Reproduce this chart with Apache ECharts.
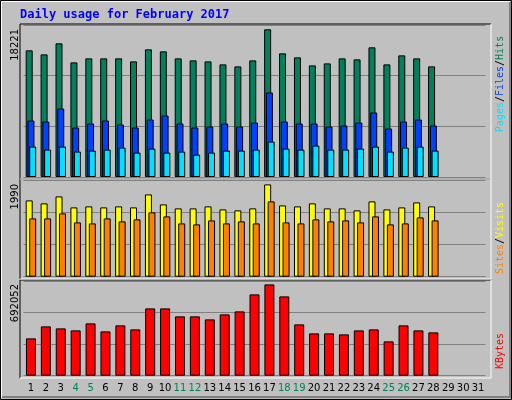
<!DOCTYPE html><html><head><meta charset="utf-8">
<script src="https://cdn.jsdelivr.net/npm/echarts@6/dist/echarts.min.js"></script>
<style>html,body{margin:0;padding:0;background:#c0c0c0}#c{width:512px;height:400px}</style></head><body><div id="c"></div>
<script>
const days = Array.from({length:31},(_,i)=>String(i+1));
const weekendDays = ['4','5','11','12','18','19','25','26'];
const hits = [15624,15129,16490,14140,14635,14635,14635,14264,15748,15500,14635,14387,14264,13893,13645,14387,18221,15253,14758,13769,14016,14635,14511,15995,13893,15006,14635,13645];
const files = [6967,6843,8451,6101,6596,6967,6472,6101,7090,7585,6596,6101,6225,6596,6225,6719,10430,6843,6596,6596,6225,6348,6719,7956,5977,6843,7090,6348];
const pages = [3751,3380,3751,3133,3256,3380,3628,3009,3504,3009,3133,2762,3009,3256,3256,3380,4370,3504,3380,3875,3380,3380,3504,3751,3133,3628,3751,3256];
const visits = [1645,1581,1731,1494,1516,1494,1516,1494,1774,1559,1473,1473,1516,1451,1430,1473,1990,1537,1516,1581,1473,1473,1430,1624,1451,1494,1602,1516];
const sites = [1257,1257,1365,1171,1149,1257,1193,1236,1387,1300,1149,1128,1214,1149,1193,1149,1624,1171,1149,1236,1193,1214,1171,1300,1128,1149,1279,1214];
const kbytes = [282878,373804,358649,343495,396535,335917,381381,351072,510191,510191,449575,449575,426843,464730,487460,616271,692052,601117,388958,320764,320764,313186,343495,351072,260147,381381,343495,328341];
const maxLabels = ['18221','1990','692052'];

const chart = echarts.init(document.getElementById('c'));
const L=23.5, W=462;
const grids=[{left:L,width:W,top:25,height:152},{left:L,width:W,top:180,height:96.7},{left:L,width:W,top:281,height:94.7}];
const maxes=[18221*152/147.7, 1990*96.7/92.3, 692052*94.7/91.3];
const ys = maxes.map((m,i)=>({gridIndex:i,type:'value',min:0,max:m,interval:m/3,axisLabel:{show:false},axisLine:{show:false},axisTick:{show:false},splitLine:{show:true,lineStyle:{color:'#808080',width:1}}}));
const xs = [0,1,2].map(i=>({gridIndex:i,type:'category',data:days,axisLine:{show:false},axisTick:{show:false},
  axisLabel:{show:i===2,interval:0,margin:8,fontFamily:'DejaVu Sans',fontSize:10,
   color:(v)=>weekendDays.includes(v)?'#00805c':'#000'}}));
const bs = (name,data,color,gi,w,gap)=>({name,type:'bar',xAxisIndex:gi,yAxisIndex:gi,data,barWidth:w,barGap:gap,
  itemStyle:{color,borderColor:'#000',borderWidth:1},animation:false,silent:true});
const rects=[[20,24,471,155],[20,179,471,100],[20,280,471,98]];
const frames=rects.map(r=>({type:'polyline',shape:{points:[[r[0],r[1]+r[3]],[r[0],r[1]],[r[0]+r[2],r[1]]]},style:{stroke:'#000',lineWidth:1,fill:null}}))
 .concat(rects.map(r=>({type:'polyline',shape:{points:[[r[0],r[1]+r[3]],[r[0]+r[2],r[1]+r[3]],[r[0]+r[2],r[1]]]},style:{stroke:'#fff',lineWidth:1,fill:null}})));
const ylab=(t,y)=>({type:'text',x:15,y:y,rotation:Math.PI/2,style:{text:t,fontFamily:'DejaVu Sans',fontSize:10,fill:'#000',align:'right',verticalAlign:'middle'}});
const F={fontFamily:'DejaVu Sans Mono',fontSize:10};
const rich={h:{fill:'#00805c',...F},f:{fill:'#0040ff',...F},p:{fill:'#00e0ff',...F},
 s:{fill:'#ff8000',...F},v:{fill:'#ffff00',...F},k:{fill:'#ff0000',...F},b:{fill:'#000',...F}};
const rlab=(parts,y)=>({type:'text',x:500,y:y,rotation:Math.PI/2,style:{text:parts,rich,...F,align:'center',verticalAlign:'middle'}});
chart.setOption({
  backgroundColor:'#c0c0c0',animation:false,
  grid:grids,xAxis:xs,yAxis:ys,
  series:[bs('Hits',hits,'#00805c',0,7,'-75%'),bs('Files',files,'#0040ff',0,7,'-75%'),bs('Pages',pages,'#00e0ff',0,7,'-75%'),
    bs('Visits',visits,'#ffff00',1,7,'-50%'),bs('Sites',sites,'#ff8000',1,7,'-50%'),
    bs('KBytes',kbytes,'#ff0000',2,10,'0%')],
  graphic:[
    {type:'rect',shape:{x:0.5,y:0.5,width:511,height:399},style:{fill:null,stroke:'#000',lineWidth:1}},
    {type:'polyline',shape:{points:[[1.5,398],[1.5,1.5],[510,1.5]]},style:{stroke:'#fff',lineWidth:1,fill:null}},
    {type:'polyline',shape:{points:[[2,397],[510,397],[510,2]]},style:{stroke:'#808080',lineWidth:2,fill:null}},
    {type:'text',x:20,y:15,style:{text:'Daily usage for February 2017',fontFamily:'DejaVu Sans Mono',fontSize:12,fontWeight:'bold',fill:'#0000ff',verticalAlign:'middle'}},
    ...frames,
    ylab(maxLabels[0],29),ylab(maxLabels[1],184),ylab(maxLabels[2],284),
    rlab('{p|Pages}{b|/}{f|Files}{b|/}{h|Hits}',84),
    rlab('{s|Sites}{b|/}{v|Visits}',238),
    rlab('{k|KBytes}',351)
  ]
});
</script></body></html>
